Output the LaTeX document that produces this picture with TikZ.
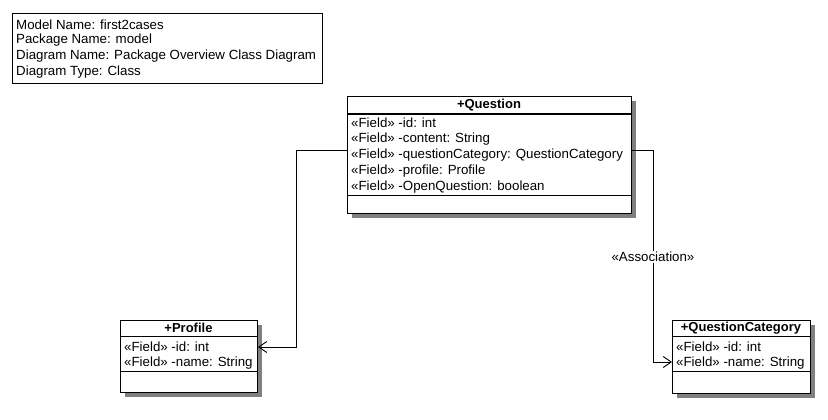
\documentclass[tikz,border=0pt]{standalone}
\usepackage{fontspec}
\setmainfont{Liberation Sans}
\usetikzlibrary{calc,arrows.meta}
\definecolor{shadowc}{RGB}{128,128,128}
\begin{document}
\begin{tikzpicture}[x=1pt,y=-1pt,
  box/.style={draw,line width=1pt,fill=white,inner sep=0pt,anchor=north west},
  shadowbox/.style={fill=shadowc},
  txt/.style={inner sep=0pt,anchor=west,font=\fontsize{13.3}{15}\selectfont},
  ttl/.style={inner sep=0pt,anchor=center,font=\bfseries\fontsize{13}{15}\selectfont},
  lbl/.style={inner sep=1pt,fill=white,font=\fontsize{13.3}{15}\selectfont},
  conn/.style={line width=1pt},
  openarrow/.style={-{Straight Barb[length=8pt,width=11pt,line width=0.9pt]}}
]
\useasboundingbox (0,0) rectangle (828,420);
\fill[white] (0,0) rectangle (828,420);

% info box
\node[box,minimum width=310pt,minimum height=70pt] (info) at (12,13) {};
\node[txt] (i1) at (16,24.5) {Model Name: first2cases};
\node[txt] (i2) at (16,40.5) {Package Name: model};
\node[txt] (i3) at (16,56.5) {Diagram Name: Package Overview Class Diagram};
\node[txt] (i4) at (16,72.5) {Diagram Type: Class};

% Question
\fill[shadowbox] (352,101) rectangle (636,218);
\node[box,minimum width=284pt,minimum height=117pt] (q) at (347,96) {};
\draw[line width=1pt] (347,114) -- (631,114);
\draw[line width=1pt] (347,195) -- (631,195);
\node[ttl] (qt) at (489,105) {+Question};
\node[txt] (q1) at (351,123) {«Field» -id: int};
\node[txt] (q2) at (351,139) {«Field» -content: String};
\node[txt] (q3) at (351,155) {«Field» -questionCategory: QuestionCategory};
\node[txt] (q4) at (351,171) {«Field» -profile: Profile};
\node[txt] (q5) at (351,187) {«Field» -OpenQuestion: boolean};

% Profile
\fill[shadowbox] (125,325) rectangle (262,397);
\node[box,minimum width=137pt,minimum height=72pt] (p) at (120,320) {};
\draw[line width=1pt] (120,336) -- (257,336);
\draw[line width=1pt] (120,371) -- (257,371);
\node[ttl] (pt) at (188.5,328) {+Profile};
\node[txt] (p1) at (124,347) {«Field» -id: int};
\node[txt] (p2) at (124,363) {«Field» -name: String};

% QuestionCategory
\fill[shadowbox] (677,325) rectangle (815,398);
\node[box,minimum width=138pt,minimum height=73pt] (c) at (672,320) {};
\draw[line width=1pt] (672,336) -- (810,336);
\draw[line width=1pt] (672,371) -- (810,371);
\node[ttl] (ct) at (741,328) {+QuestionCategory};
\node[txt] (c1) at (676,347) {«Field» -id: int};
\node[txt] (c2) at (676,363) {«Field» -name: String};

% connectors
\coordinate (qL) at ($(q.north west)+(0,54)$);
\coordinate (qR) at ($(q.north east)+(0,54)$);
\coordinate (pR) at ($(p.north east)+(0,27)$);
\coordinate (cL) at ($(c.north west)+(0,42)$);
\draw[conn,openarrow] (qL) -- (296,150) -- (296,347) -- (pR);
\draw[conn,openarrow] (qR) -- (653,150) -- (653,362) -- (cL);
\node[lbl] (assoc) at (653,257) {«Association»};
\end{tikzpicture}
\end{document}
